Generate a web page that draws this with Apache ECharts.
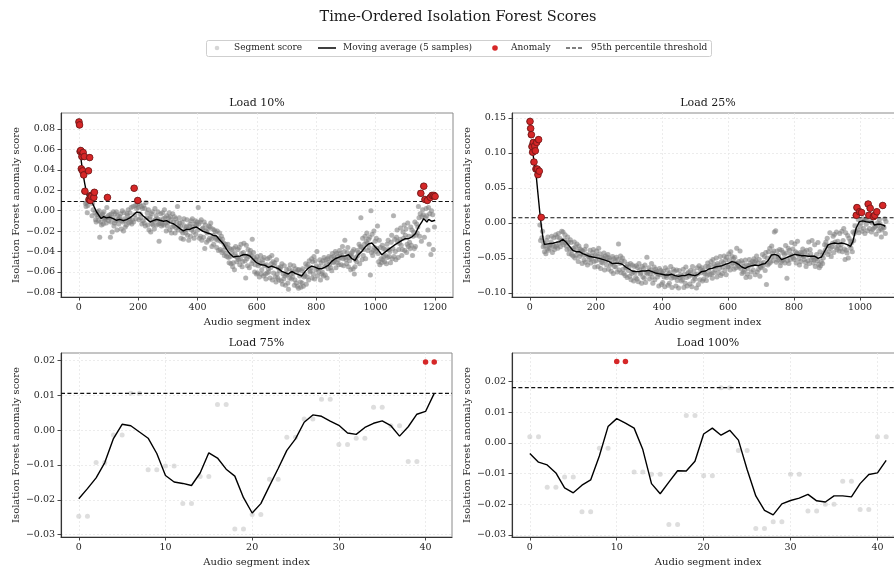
<!DOCTYPE html>
<html>
<head>
<meta charset="utf-8">
<script src="https://cdn.jsdelivr.net/npm/echarts@6/dist/echarts.min.js"></script>
<style>
  html, body { margin: 0; padding: 0; background: #ffffff; }
  #chart { width: 894px; height: 570px; }
</style>
</head>
<body>
<div id="chart"></div>
<script>
// Scores for the two long recordings are listed in thousandths of a score unit.
// Segments are scored in consecutive pairs, so each score appears twice.
const SCALE = 1000;

// ---- Load 10% : 1202 audio segments ----
const load10Scores = [
  87,87,84,84,58,58,59,59,41,41,53,53,39,39,57,57,35,35,53,53,
  19,19,7,7,4,4,8,8,-2,-2,5,5,39,39,11,11,52,52,10,10,
  15,15,14,14,-5,-5,7,7,1,1,13,13,18,18,-2,-2,-9,-9,-11,-11,
  -4,-4,-1,-1,-6,-6,-10,-10,0,0,-26,-26,-5,-5,-11,-11,-14,-14,-4,-4,
  -3,-3,-13,-13,-1,-1,-8,-8,-9,-9,-7,-7,-12,-12,3,3,13,13,-5,-5,
  -10,-10,-7,-7,-4,-4,-26,-26,-11,-11,-3,-3,-21,-21,-7,-7,-1,-1,-15,-15,
  -12,-12,-3,-3,-10,-10,-1,-1,-19,-19,-5,-5,-9,-9,-13,-13,-8,-8,-6,-6,
  -3,-3,-18,-18,-10,-10,0,0,-11,-11,-20,-20,-2,-2,-8,-8,-16,-16,-10,-10,
  -14,-14,-3,-3,-5,-5,1,1,-12,-12,-8,-8,-2,-2,-11,-11,3,3,-13,-13,
  -9,-9,4,4,-11,-11,22,22,-4,-4,5,5,-8,-8,2,2,6,6,10,10,
  3,3,-9,-9,7,7,-3,-3,-7,-7,4,4,-13,-13,2,2,-10,-10,5,5,
  -12,-12,2,2,-15,-15,8,8,-7,-7,-2,-2,-14,-14,1,1,-19,-19,-8,-8,
  -6,-6,-21,-21,-3,-3,-13,-13,-1,-1,-14,-14,-10,-10,-18,-18,2,2,-9,-9,
  -5,-5,-14,-14,-8,-8,-1,-1,-13,-13,-30,-30,-9,-9,-12,-12,-3,-3,-15,-15,
  -13,-13,-2,-2,-8,-8,-14,-14,1,1,-7,-7,-12,-12,-20,-20,-5,-5,-15,-15,
  -11,-11,-7,-7,-2,-2,-19,-19,-6,-6,-9,-9,-22,-22,-16,-16,-3,-3,-11,-11,
  -15,-15,-6,-6,-22,-22,-8,-8,-17,-17,-11,-11,4,4,-19,-19,-15,-15,-7,-7,
  -12,-12,-15,-15,-27,-27,-20,-20,-11,-11,-22,-22,-28,-28,-8,-8,-15,-15,-19,-19,
  -22,-22,-16,-16,-9,-9,-24,-24,-18,-18,-29,-29,-15,-15,-13,-13,-25,-25,-10,-10,
  -19,-19,-8,-8,-16,-16,-21,-21,-27,-27,-13,-13,-10,-10,-23,-23,-14,-14,-11,-11,
  -19,-19,3,3,-13,-13,-27,-27,-11,-11,-25,-25,-9,-9,-29,-29,-18,-18,-17,-17,
  -26,-26,-11,-11,-37,-37,-14,-14,-20,-20,-31,-31,-22,-22,-18,-18,-29,-29,-15,-15,
  -27,-27,-16,-16,-12,-12,-28,-28,-35,-35,-18,-18,-24,-24,-33,-33,-19,-19,-26,-26,
  -21,-21,-28,-28,-36,-36,-20,-20,-29,-29,-39,-39,-27,-27,-22,-22,-38,-38,-30,-30,
  -25,-25,-41,-41,-28,-28,-39,-39,-32,-32,-44,-44,-35,-35,-33,-33,-42,-42,-45,-45,
  -36,-36,-33,-33,-46,-46,-51,-51,-37,-37,-45,-45,-52,-52,-38,-38,-42,-42,-55,-55,
  -51,-51,-37,-37,-58,-58,-42,-42,-35,-35,-45,-45,-50,-50,-46,-46,-38,-38,-48,-48,
  -36,-36,-53,-53,-47,-47,-33,-33,-42,-42,-55,-55,-50,-50,-41,-41,-32,-32,-44,-44,
  -49,-49,-66,-66,-34,-34,-47,-47,-54,-54,-38,-38,-45,-45,-56,-56,-42,-42,-39,-39,
  -44,-44,-52,-52,-28,-28,-49,-49,-41,-41,-46,-46,-60,-60,-53,-53,-48,-48,-62,-62,
  -45,-45,-61,-61,-54,-54,-48,-48,-65,-65,-52,-52,-44,-44,-62,-62,-58,-58,-51,-51,
  -48,-48,-64,-64,-46,-46,-54,-54,-62,-62,-67,-67,-53,-53,-61,-61,-47,-47,-57,-57,
  -60,-60,-46,-46,-66,-66,-56,-56,-52,-52,-44,-44,-68,-68,-50,-50,-61,-61,-54,-54,
  -51,-51,-65,-65,-70,-70,-48,-48,-62,-62,-66,-66,-56,-56,-68,-68,-59,-59,-57,-57,
  -55,-55,-69,-69,-52,-52,-72,-72,-62,-62,-67,-67,-54,-54,-64,-64,-73,-73,-62,-62,
  -58,-58,-63,-63,-71,-71,-77,-77,-57,-57,-66,-66,-53,-53,-62,-62,-67,-67,-59,-59,
  -65,-65,-61,-61,-54,-54,-73,-73,-68,-68,-57,-57,-71,-71,-60,-60,-74,-74,-58,-58,
  -76,-76,-58,-58,-64,-64,-70,-70,-75,-75,-59,-59,-71,-71,-57,-57,-74,-74,-65,-65,
  -62,-62,-64,-64,-52,-52,-72,-72,-55,-55,-65,-65,-53,-53,-68,-68,-49,-49,-60,-60,
  -59,-59,-56,-56,-47,-47,-66,-66,-50,-50,-62,-62,-45,-45,-67,-67,-49,-49,-58,-58,
  -54,-54,-40,-40,-64,-64,-57,-57,-60,-60,-55,-55,-48,-48,-68,-68,-51,-51,-62,-62,
  -60,-60,-49,-49,-64,-64,-46,-46,-55,-55,-63,-63,-48,-48,-52,-52,-66,-66,-47,-47,
  -57,-57,-45,-45,-53,-53,-50,-50,-56,-56,-46,-46,-59,-59,-42,-42,-51,-51,-45,-45,
  -50,-50,-47,-47,-40,-40,-56,-56,-42,-42,-51,-51,-45,-45,-48,-48,-53,-53,-39,-39,
  -42,-42,-46,-46,-53,-53,-44,-44,-35,-35,-47,-47,-54,-54,-40,-40,-29,-29,-46,-46,
  -48,-48,-52,-52,-41,-41,-36,-36,-55,-55,-46,-46,-49,-49,-44,-44,-58,-58,-42,-42,
  -45,-45,-40,-40,-57,-57,-38,-38,-62,-62,-55,-55,-48,-48,-46,-46,-50,-50,-39,-39,
  -44,-44,-41,-41,-33,-33,-52,-52,-35,-35,-7,-7,-36,-36,-48,-48,-27,-27,-44,-44,
  -38,-38,-33,-33,-25,-25,-47,-47,-30,-30,-22,-22,-32,-32,-39,-39,-28,-28,-36,-36,
  -26,-26,-63,-63,0,0,-41,-41,-23,-23,-44,-44,-39,-39,-20,-20,-36,-36,-30,-30,
  -40,-40,-27,-27,-37,-37,-15,-15,-42,-42,-50,-50,-29,-29,-53,-53,-36,-36,-47,-47,
  -51,-51,-34,-34,-48,-48,-37,-37,-45,-45,-50,-50,-38,-38,-44,-44,-52,-52,-33,-33,
  -46,-46,-29,-29,-38,-38,-45,-45,-40,-40,-51,-51,-31,-31,-24,-24,-47,-47,-37,-37,
  -5,-5,-45,-45,-28,-28,-40,-40,-48,-48,-26,-26,-19,-19,-30,-30,-46,-46,-38,-38,
  -32,-32,-28,-28,-17,-17,-34,-34,-44,-44,-38,-38,-21,-21,-27,-27,-14,-14,-39,-39,
  -24,-24,-18,-18,-41,-41,-33,-33,-12,-12,-35,-35,-25,-25,-31,-31,-37,-37,-16,-16,
  -34,-34,-19,-19,-44,-44,-25,-25,-21,-21,-37,-37,-11,-11,-35,-35,-24,-24,-13,-13,
  -22,-22,-16,-16,4,4,-7,-7,-25,-25,-3,-3,17,17,-30,-30,-6,-6,1,1,
  -4,-4,24,24,-26,-26,11,11,-7,-7,2,2,-5,-5,10,10,-19,-19,3,3,
  -33,-33,-3,-3,13,13,-43,-43,0,0,15,15,-4,-4,-38,-38,15,15,-16,-16,
  14,14
];
const load10AvgIndex = [
  0,6,12,20,28,35,44,52,60,69,75,84,93,105,116,127,138,150,161,172,
  183,195,206,217,228,240,251,262,273,285,296,307,318,330,341,352,363,374,386,397,
  408,419,431,442,453,464,476,487,498,509,521,532,543,554,566,577,588,599,611,628,
  639,650,661,673,684,695,706,718,729,740,751,763,774,785,796,807,819,830,841,852,
  864,875,886,897,909,920,931,942,954,965,976,988,999,1010,1021,1032,1044,1055,1066,1077,
  1089,1100,1111,1122,1134,1145,1156,1162,1167,1173,1179,1190,1201
];
const load10AvgScores = [
  57.6,54,40,26.5,15,11,8.5,3.6,-1.3,-5.2,-7.8,-5.9,-7.1,-6.5,-7.8,-9.4,-8.5,-9.8,-8.8,-7.1,
  -4.5,-1.3,-1.9,-5.2,-7.8,-11.1,-9.8,-8.5,-9.4,-10.4,-9.8,-11.7,-12.7,-15,-17.6,-19.9,-18.3,-18.3,-16.7,-16,
  -18.3,-20.3,-21.6,-22.6,-24.2,-24.8,-29.1,-32.4,-37.9,-42.2,-45.4,-44.8,-44.5,-43.2,-43.2,-44.5,-47.8,-51,-52.7,-53.6,
  -55.6,-54.3,-55.6,-56.9,-59.5,-60.8,-62.1,-59.5,-61.4,-62.7,-64,-59.5,-56.2,-54.3,-55.3,-56.9,-56.9,-55.3,-53.6,-49.7,
  -47.1,-45.8,-44.5,-44.5,-43.2,-47.1,-48.7,-43.2,-39.9,-35.6,-32.7,-31.7,-35.6,-38.9,-43.2,-40.6,-37.9,-35.6,-33.3,-31.4,
  -29.1,-27.5,-27.5,-25.8,-22.6,-16,-11.1,-7.8,-9.2,-11.1,-8.5,-10.4,-9.4
];
const load10Threshold = 0.009;

// ---- Load 25% : 1080 audio segments ----
const load25Scores = [
  145,145,135,135,126,126,109,109,101,101,115,115,87,87,110,110,103,103,77,77,
  115,115,77,77,69,69,119,119,74,74,-3,-3,-25,-25,8,8,-21,-21,-12,-12,
  -34,-34,-29,-29,-41,-41,-33,-33,-44,-44,-25,-25,-37,-37,-20,-20,-39,-39,-32,-32,
  -36,-36,-31,-31,-27,-27,-19,-19,-42,-42,-32,-32,-21,-21,-38,-38,-34,-34,-17,-17,
  -33,-33,-20,-20,-36,-36,-15,-15,-29,-29,-22,-22,-34,-34,-25,-25,-12,-12,-28,-28,
  -13,-13,-31,-31,-24,-24,-17,-17,-28,-28,-33,-33,-38,-38,-20,-20,-27,-27,-44,-44,
  -37,-37,-24,-24,-28,-28,-45,-45,-39,-39,-47,-47,-36,-36,-27,-27,-50,-50,-34,-34,
  -46,-46,-30,-30,-40,-40,-55,-55,-33,-33,-48,-48,-37,-37,-44,-44,-39,-39,-58,-58,
  -40,-40,-46,-46,-53,-53,-38,-38,-56,-56,-33,-33,-45,-45,-60,-60,-48,-48,-46,-46,
  -52,-52,-39,-39,-57,-57,-51,-51,-47,-47,-42,-42,-38,-38,-55,-55,-63,-63,-46,-46,
  -54,-54,-40,-40,-47,-47,-62,-62,-36,-36,-52,-52,-44,-44,-65,-65,-56,-56,-49,-49,
  -57,-57,-50,-50,-43,-43,-67,-67,-47,-47,-54,-54,-60,-60,-49,-49,-45,-45,-66,-66,
  -50,-50,-53,-53,-60,-60,-69,-69,-58,-58,-48,-48,-72,-72,-51,-51,-62,-62,-54,-54,
  -63,-63,-49,-49,-70,-70,-52,-52,-30,-30,-67,-67,-58,-58,-47,-47,-71,-71,-54,-54,
  -50,-50,-66,-66,-72,-72,-55,-55,-75,-75,-64,-64,-62,-62,-78,-78,-59,-59,-68,-68,
  -63,-63,-76,-76,-58,-58,-81,-81,-72,-72,-60,-60,-70,-70,-83,-83,-62,-62,-71,-71,
  -78,-78,-61,-61,-80,-80,-64,-64,-84,-84,-58,-58,-67,-67,-73,-73,-71,-71,-86,-86,
  -62,-62,-77,-77,-65,-65,-79,-79,-60,-60,-85,-85,-71,-71,-49,-49,-73,-73,-70,-70,
  -64,-64,-80,-80,-73,-73,-67,-67,-58,-58,-77,-77,-86,-86,-70,-70,-63,-63,-81,-81,
  -66,-66,-71,-71,-69,-69,-77,-77,-73,-73,-90,-90,-65,-65,-74,-74,-68,-68,-88,-88,
  -71,-71,-85,-85,-69,-69,-77,-77,-91,-91,-64,-64,-75,-75,-78,-78,-67,-67,-89,-89,
  -73,-73,-86,-86,-71,-71,-62,-62,-79,-79,-92,-92,-75,-75,-66,-66,-78,-78,-69,-69,
  -77,-77,-90,-90,-67,-67,-82,-82,-76,-76,-93,-93,-68,-68,-78,-78,-74,-74,-83,-83,
  -76,-76,-81,-81,-66,-66,-92,-92,-73,-73,-86,-86,-63,-63,-78,-78,-90,-90,-72,-72,
  -70,-70,-76,-76,-87,-87,-68,-68,-74,-74,-91,-91,-62,-62,-83,-83,-69,-69,-77,-77,
  -80,-80,-74,-74,-93,-93,-64,-64,-73,-73,-88,-88,-61,-61,-81,-81,-66,-66,-71,-71,
  -64,-64,-83,-83,-68,-68,-80,-80,-70,-70,-73,-73,-62,-62,-82,-82,-75,-75,-57,-57,
  -63,-63,-69,-69,-74,-74,-61,-61,-55,-55,-73,-73,-79,-79,-52,-52,-71,-71,-59,-59,
  -67,-67,-62,-62,-50,-50,-77,-77,-58,-58,-71,-71,-60,-60,-65,-65,-48,-48,-75,-75,
  -55,-55,-72,-72,-63,-63,-57,-57,-47,-47,-68,-68,-53,-53,-74,-74,-49,-49,-62,-62,
  -63,-63,-44,-44,-54,-54,-67,-67,-41,-41,-61,-61,-48,-48,-57,-57,-51,-51,-66,-66,
  -49,-49,-57,-57,-64,-64,-36,-36,-58,-58,-61,-61,-55,-55,-63,-63,-40,-40,-65,-65,
  -54,-54,-72,-72,-57,-57,-70,-70,-62,-62,-67,-67,-53,-53,-78,-78,-60,-60,-73,-73,
  -65,-65,-61,-61,-52,-52,-77,-77,-57,-57,-70,-70,-60,-60,-55,-55,-67,-67,-51,-51,
  -56,-56,-74,-74,-54,-54,-47,-47,-70,-70,-57,-57,-66,-66,-52,-52,-76,-76,-63,-63,
  -64,-64,-58,-58,-45,-45,-61,-61,-56,-56,-48,-48,-68,-68,-42,-42,-88,-88,-50,-50,
  -60,-60,-41,-41,-58,-58,-36,-36,-56,-56,-49,-49,-33,-33,-43,-43,-54,-54,-40,-40,
  -13,-13,-48,-48,-11,-11,-56,-56,-40,-40,-53,-53,-46,-46,-50,-50,-38,-38,-61,-61,
  -56,-56,-39,-39,-54,-54,-42,-42,-52,-52,-45,-45,-57,-57,-32,-32,-43,-43,-79,-79,
  -54,-54,-36,-36,-58,-58,-39,-39,-52,-52,-45,-45,-28,-28,-47,-47,-37,-37,-50,-50,
  -52,-52,-30,-30,-41,-41,-57,-57,-43,-43,-26,-26,-45,-45,-51,-51,-60,-60,-42,-42,
  -55,-55,-46,-46,-43,-43,-37,-37,-48,-48,-52,-52,-41,-41,-56,-56,-62,-62,-39,-39,
  -46,-46,-54,-54,-27,-27,-58,-58,-38,-38,-44,-44,-52,-52,-25,-25,-49,-49,-57,-57,
  -53,-53,-31,-31,-62,-62,-51,-51,-45,-45,-54,-54,-28,-28,-59,-59,-64,-64,-41,-41,
  -61,-61,-55,-55,-46,-46,-58,-58,-50,-50,-43,-43,-31,-31,-39,-39,-27,-27,-33,-33,
  -22,-22,-45,-45,-33,-33,-41,-41,-14,-14,-36,-36,-48,-48,-34,-34,-29,-29,-19,-19,
  -42,-42,-16,-16,-27,-27,-35,-35,-13,-13,-38,-38,-26,-26,-32,-32,-40,-40,-15,-15,
  -36,-36,-31,-31,-12,-12,-41,-41,-25,-25,-8,-8,-37,-37,-52,-52,-14,-14,-39,-39,
  -43,-43,-18,-18,-50,-50,-22,-22,-32,-32,-26,-26,-36,-36,-28,-28,-41,-41,-13,-13,
  -25,-25,-15,-15,-4,-4,-12,-12,11,11,22,22,-10,-10,5,5,-14,-14,16,16,
  -5,-5,0,0,15,15,-12,-12,6,6,-8,-8,3,3,-15,-15,5,5,-2,-2,
  4,4,-11,-11,27,27,11,11,-8,-8,21,21,2,2,-13,-13,0,0,-9,-9,
  9,9,-7,-7,11,11,-5,-5,-16,-16,16,16,0,0,-4,-4,-11,-11,5,5,
  -1,-1,-8,-8,-20,-20,-10,-10,25,25,-5,-5,-7,-7,6,6,-15,-15,2,2
];
const load25AvgIndex = [
  0,2,6,10,15,20,25,30,35,40,44,50,60,70,80,90,100,110,120,130,
  140,150,160,170,180,190,200,210,220,230,240,250,260,270,280,290,300,310,320,330,
  340,350,360,370,380,390,400,410,420,430,440,450,460,470,480,490,500,510,520,532,
  542,552,562,572,582,592,602,612,622,632,642,652,662,672,682,692,702,712,722,732,
  742,752,762,772,782,792,802,812,822,832,843,853,863,873,878,883,893,903,913,923,
  933,943,953,963,971,978,988,998,1008,1018,1028,1038,1043,1048,1053,1063,1073,1076
];
const load25AvgScores = [
  113.8,111,107.6,97,80,64,40,16,-5,-22,-30.5,-30.5,-29.5,-29,-27.6,-26.7,-23.3,-27.6,-33.3,-39,
  -41,-41,-43.8,-45.7,-47.6,-48.6,-49.5,-50.5,-51.9,-53.3,-55.2,-58.1,-57.6,-57.6,-59,-62.9,-65.7,-68.6,-69.5,-69.5,
  -68.6,-68.6,-67.6,-69.5,-71.4,-72.4,-73.3,-74.3,-74.3,-73.3,-75.2,-76.2,-75.2,-75.2,-73.3,-74.3,-75.2,-73.3,-69.5,-68.6,
  -65.7,-64.8,-62.9,-61.9,-61,-59,-57.6,-55.2,-56.2,-59,-62.9,-64.8,-62.4,-61,-60,-61,-59,-58.1,-53.3,-45.7,
  -44.8,-46.7,-52.4,-50.5,-48.6,-46.7,-44.8,-45.7,-46.7,-46.7,-47.6,-47.6,-47.6,-50.5,-52.4,-48.6,-40,-31.4,-29.5,-28.6,
  -29.5,-28.6,-29.5,-31.4,-33.3,-26.7,-7.6,1.9,2.9,1.9,1,1.9,-2.9,-5.2,-1.9,-1.9,-3.8,-4.8
];
const load25Threshold = 0.0075;

// ---- Load 75% : 42 audio segments ----
const load75Scores = [
  -0.0247,-0.0247,-0.0093,-0.0093,-0.0014,-0.0014,0.0106,0.0106,-0.0114,-0.0114,
  -0.0103,-0.0103,-0.0211,-0.0211,-0.0133,-0.0133,0.0074,0.0074,-0.0284,-0.0284,
  -0.0242,-0.0242,-0.0141,-0.0141,-0.0020,-0.0020,0.0032,0.0032,0.0089,0.0089,
  -0.0041,-0.0041,-0.0023,-0.0023,0.0066,0.0066,0.0013,0.0013,-0.0090,-0.0090,
  0.0196,0.0196
];
const load75Avg = [
  -0.0197,-0.0168,-0.0137,-0.0093,-0.0024,0.0017,0.0013,-0.0005,-0.0023,-0.0067,
  -0.0130,-0.0149,-0.0153,-0.0159,-0.0123,-0.0065,-0.0080,-0.0112,-0.0132,-0.0194,
  -0.0238,-0.0211,-0.0160,-0.0110,-0.0058,-0.0025,0.0023,0.0044,0.0040,0.0026,
  0.0014,-0.0008,-0.0012,0.0008,0.0020,0.0027,0.0013,-0.0017,0.0010,0.0046,
  0.0054,0.0106
];
const load75Threshold = 0.0106;

// ---- Load 100% : 42 audio segments ----
const load100Scores = [
  0.0020,0.0020,-0.0145,-0.0145,-0.0111,-0.0111,-0.0225,-0.0225,-0.0018,-0.0018,
  0.0265,0.0265,-0.0095,-0.0095,-0.0102,-0.0102,-0.0266,-0.0266,0.0089,0.0089,
  -0.0107,-0.0107,0.0180,0.0180,-0.0025,-0.0025,-0.0279,-0.0279,-0.0257,-0.0257,
  -0.0102,-0.0102,-0.0222,-0.0222,-0.0200,-0.0200,-0.0125,-0.0125,-0.0217,-0.0217,
  0.0020,0.0020
];
const load100Avg = [
  -0.0035,-0.0063,-0.0072,-0.0098,-0.0147,-0.0163,-0.0138,-0.0121,-0.0043,0.0053,
  0.0079,0.0064,0.0048,-0.0022,-0.0133,-0.0166,-0.0128,-0.0091,-0.0092,-0.0060,
  0.0029,0.0048,0.0025,0.0041,0.0009,-0.0087,-0.0173,-0.0220,-0.0235,-0.0199,
  -0.0188,-0.0180,-0.0168,-0.0189,-0.0193,-0.0173,-0.0173,-0.0176,-0.0133,-0.0103,
  -0.0098,-0.0057
];
const load100Threshold = 0.018;

// ---- tick positions ----
const xTicksLoad10 = [0, 200, 400, 600, 800, 1000, 1200];
const xTicksLoad25 = [0, 200, 400, 600, 800, 1000];
const xTicksShort = [0, 10, 20, 30, 40];
const yTicksLoad10 = [-0.08, -0.06, -0.04, -0.02, 0, 0.02, 0.04, 0.06, 0.08];
const yTicksLoad25 = [-0.10, -0.05, 0, 0.05, 0.10, 0.15];
const yTicksShort = [-0.03, -0.02, -0.01, 0, 0.01, 0.02];

const panelTitles = ['Load 10%', 'Load 25%', 'Load 75%', 'Load 100%'];
const legendNames = ['Segment score', 'Moving average (5 samples)', 'Anomaly', '95th percentile threshold'];
const xAxisTitle = 'Audio segment index';
const yAxisTitle = 'Isolation Forest anomaly score';
const figureTitle = 'Time-Ordered Isolation Forest Scores';

const FONT = '"DejaVu Serif", "Liberation Serif", serif';
const INK = '#262626';

const indexList = (n) => Array.from({ length: n }, (_, i) => i);

const panels = [
  {
    title: panelTitles[0],
    scores: load10Scores.map(v => v / SCALE),
    avgX: load10AvgIndex, avgY: load10AvgScores.map(v => v / SCALE),
    threshold: load10Threshold,
    xTicks: xTicksLoad10, yTicks: yTicksLoad10,
    xRange: [-60, 1261], yRange: [-0.0846, 0.0957],
    box: { left: 61, top: 113, width: 392, height: 184 },
    dense: true
  },
  {
    title: panelTitles[1],
    scores: load25Scores.map(v => v / SCALE),
    avgX: load25AvgIndex, avgY: load25AvgScores.map(v => v / SCALE),
    threshold: load25Threshold,
    xTicks: xTicksLoad25, yTicks: yTicksLoad25,
    xRange: [-54, 1133], yRange: [-0.1057, 0.157],
    box: { left: 512, top: 113, width: 392, height: 184 },
    dense: true
  },
  {
    title: panelTitles[2],
    scores: load75Scores,
    avgX: indexList(load75Avg.length), avgY: load75Avg,
    threshold: load75Threshold,
    xTicks: xTicksShort, yTicks: yTicksShort,
    xRange: [-2.05, 43.05], yRange: [-0.0307, 0.0222],
    box: { left: 61, top: 353, width: 391, height: 184 },
    dense: false
  },
  {
    title: panelTitles[3],
    scores: load100Scores,
    avgX: indexList(load100Avg.length), avgY: load100Avg,
    threshold: load100Threshold,
    xTicks: xTicksShort, yTicks: yTicksShort,
    xRange: [-2.05, 43.05], yRange: [-0.0307, 0.0293],
    box: { left: 512, top: 353, width: 392, height: 184 },
    dense: false
  }
];

const fmtScore = v => (v < -1e-12 ? '\u2212' : '') + Math.abs(v).toFixed(2);

const grids = [], xAxes = [], yAxes = [], series = [], graphics = [];

panels.forEach((p, k) => {
  grids.push({
    left: p.box.left, top: p.box.top, width: p.box.width, height: p.box.height,
    show: true, borderColor: '#8a8a8a', borderWidth: 1, backgroundColor: 'transparent',
    containLabel: false, outerBoundsMode: 'none'
  });

  xAxes.push({
    type: 'value', gridIndex: k, min: p.xRange[0], max: p.xRange[1],
    name: xAxisTitle, nameLocation: 'middle', nameGap: 20,
    nameTextStyle: { fontFamily: FONT, fontSize: 10, color: INK },
    axisLine: { show: true, onZero: false, lineStyle: { color: '#333', width: 1.1 } },
    axisTick: { show: true, length: 3.5, customValues: p.xTicks, lineStyle: { color: '#333', width: 0.9 } },
    axisLabel: { customValues: p.xTicks, margin: 6, fontFamily: FONT, fontSize: 9.5, color: INK,
                 formatter: v => String(Math.round(v)) },
    splitLine: { show: true, customValues: p.xTicks, lineStyle: { color: '#e8e8e8', width: 0.8, type: [2, 2] } }
  });

  yAxes.push({
    type: 'value', gridIndex: k, min: p.yRange[0], max: p.yRange[1],
    name: yAxisTitle, nameLocation: 'middle', nameGap: 40,
    nameTextStyle: { fontFamily: FONT, fontSize: 10, color: INK },
    axisLine: { show: true, onZero: false, lineStyle: { color: '#333', width: 1.1 } },
    axisTick: { show: true, length: 3.5, customValues: p.yTicks, lineStyle: { color: '#333', width: 0.9 } },
    axisLabel: { customValues: p.yTicks, margin: 6, fontFamily: FONT, fontSize: 9.5, color: INK,
                 formatter: fmtScore },
    splitLine: { show: true, customValues: p.yTicks, lineStyle: { color: '#e8e8e8', width: 0.8, type: [2, 2] } }
  });

  const points = p.scores.map((v, i) => [i, v]);

  series.push({
    type: 'scatter', name: legendNames[0], xAxisIndex: k, yAxisIndex: k,
    data: points, symbolSize: 5, silent: true, z: 1,
    itemStyle: { color: p.dense ? 'rgba(128,128,128,0.36)' : 'rgba(190,190,190,0.5)', opacity: 1 }
  });

  series.push({
    type: 'line', name: legendNames[1], xAxisIndex: k, yAxisIndex: k,
    data: p.avgX.map((x, i) => [x, p.avgY[i]]),
    symbol: 'none', showSymbol: false, silent: true, z: 3,
    lineStyle: { color: '#000', width: 1.4 }
  });

  series.push({
    type: 'line', name: legendNames[3], xAxisIndex: k, yAxisIndex: k,
    data: [[p.xRange[0], p.threshold], [p.xRange[1], p.threshold]],
    symbol: 'none', showSymbol: false, silent: true, z: 3,
    lineStyle: { color: '#111', width: 1.1, type: [4, 2.4] }
  });

  series.push({
    type: 'scatter', name: legendNames[2], xAxisIndex: k, yAxisIndex: k,
    data: points.filter(d => d[1] > p.threshold),
    symbolSize: p.dense ? 6.5 : 5.5, silent: true, z: 4,
    itemStyle: p.dense
      ? { color: '#d62728', borderColor: '#4a1212', borderWidth: 0.5, opacity: 1 }
      : { color: '#d62728', opacity: 1 }
  });

  graphics.push({
    type: 'text', x: p.box.left + p.box.width / 2, y: p.box.top - 10,
    style: { text: p.title, font: '11px ' + FONT, fill: '#1a1a1a', align: 'center', verticalAlign: 'middle' }
  });
});

// figure title
graphics.push({
  type: 'text', x: 458, y: 17,
  style: { text: figureTitle, font: '14.5px ' + FONT, fill: '#1a1a1a', align: 'center', verticalAlign: 'middle' }
});

// legend box
const LY = 48;
graphics.push({
  type: 'rect', shape: { x: 206.5, y: 40.5, width: 505, height: 16, r: 2 },
  style: { fill: '#ffffff', stroke: '#cfcfcf', lineWidth: 1 }
});
graphics.push({ type: 'circle', shape: { cx: 217, cy: LY, r: 2.3 }, style: { fill: '#d6d6d6' } });
graphics.push({ type: 'line', shape: { x1: 318, y1: LY, x2: 336, y2: LY }, style: { stroke: '#000', lineWidth: 1.5 } });
graphics.push({ type: 'circle', shape: { cx: 495, cy: LY, r: 2.8 }, style: { fill: '#d62728' } });
graphics.push({ type: 'line', shape: { x1: 566, y1: LY, x2: 584, y2: LY }, style: { stroke: '#000', lineWidth: 1.2, lineDash: [4, 2] } });
[[234, 0], [343, 1], [511, 2], [591, 3]].forEach(([x, n]) => {
  graphics.push({
    type: 'text', x: x, y: LY,
    style: { text: legendNames[n], font: '9px ' + FONT, fill: INK, align: 'left', verticalAlign: 'middle' }
  });
});

const chart = echarts.init(document.getElementById('chart'), null, { renderer: 'canvas' });
chart.setOption({
  animation: false,
  backgroundColor: '#ffffff',
  grid: grids,
  xAxis: xAxes,
  yAxis: yAxes,
  series: series,
  graphic: { elements: graphics }
});
</script>
</body>
</html>
